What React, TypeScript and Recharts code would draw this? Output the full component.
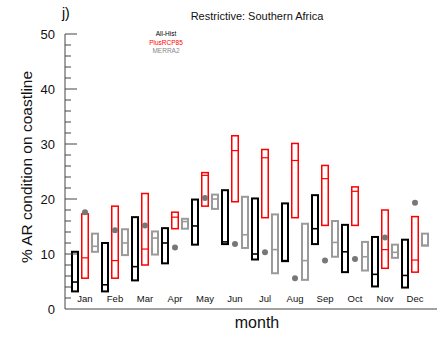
import { ComposedChart, Bar, Scatter, XAxis, YAxis } from "recharts";

const MONTHS = ["Jan", "Feb", "Mar", "Apr", "May", "Jun", "Jul", "Aug", "Sep", "Oct", "Nov", "Dec"];

// All-Hist (black)
const HIST_LO = [3.2, 3.2, 5.2, 8.3, 11.7, 11.8, 9.0, 8.7, 11.8, 6.7, 4.1, 3.9];
const HIST_HI = [10.4, 12.0, 16.7, 14.7, 19.9, 21.6, 20.1, 19.2, 20.7, 15.3, 13.1, 12.6];
const HIST_MED = [4.9, 4.4, 7.7, 12.0, 15.1, 12.2, 10.0, 8.8, 14.6, 10.4, 6.3, 6.1];

// PlusRCP85 (red)
const RCP_LO = [5.6, 5.6, 8.0, 14.6, 18.7, 19.5, 16.6, 16.6, 15.2, 15.2, 7.4, 6.7];
const RCP_HI = [17.3, 18.7, 21.0, 17.6, 24.8, 31.5, 29.0, 30.1, 26.1, 22.2, 18.0, 16.8];
const RCP_MED = [9.3, 8.8, 10.9, 16.7, 24.3, 28.8, 27.5, 27.0, 23.7, 21.4, 10.8, 8.9];

// MERRA2 (gray)
const MERRA_LO = [10.4, 9.8, 9.9, 14.6, 18.2, 11.1, 6.5, 5.3, 9.5, 7.0, 9.3, 11.5];
const MERRA_HI = [13.7, 14.5, 14.1, 16.4, 20.8, 20.4, 17.2, 15.5, 16.0, 12.2, 11.7, 13.7];
const MERRA_MED = [11.4, 12.0, 12.9, 15.9, 20.0, 13.5, 10.8, 8.8, 12.1, 9.5, 10.3, 11.6];

// gray dots
const OBS = [17.6, 14.3, 15.2, 11.2, 20.2, 11.8, 10.3, 5.6, 8.8, 9.1, 13.0, 19.3];

const Y_TICKS = Array.from({ length: 26 }, (_, i) => i * 2);

const data = MONTHS.map((month, i) => ({
  month,
  hist: [HIST_LO[i], HIST_HI[i]],
  histMed: HIST_MED[i],
  rcp: [RCP_LO[i], RCP_HI[i]],
  rcpMed: RCP_MED[i],
  merra: [MERRA_LO[i], MERRA_HI[i]],
  merraMed: MERRA_MED[i],
  obs: OBS[i],
}));

const FONT = "'Liberation Sans', Arial, Helvetica, sans-serif";

const makeBox = (color: string, sw: number, rangeKey: string, medKey: string) => (props: any) => {
  const { x, y, width, height, payload } = props;
  const top = Math.min(y, y + height);
  const h = Math.abs(height);
  const [lo, hi] = payload[rangeKey];
  const med = payload[medKey];
  const my = top + (h * (hi - med)) / (hi - lo);
  return (
    <g>
      <rect x={x + sw / 2} y={top} width={width - sw} height={h} fill="none" stroke={color} strokeWidth={sw} />
      <line x1={x + sw / 2} x2={x + width - sw / 2} y1={my} y2={my} stroke={color} strokeWidth={sw * 0.8} />
    </g>
  );
};

const YTick = (props: any) => {
  const { x, y, payload } = props;
  const major = payload.value % 10 === 0;
  return (
    <g>
      {payload.value !== 0 && (
        <line x1={x} x2={x + (major ? 12 : 6)} y1={y} y2={y} stroke="#444" strokeWidth={1} />
      )}
      {major && (
        <text x={x - 10} y={y} dy={4.5} textAnchor="end" fontSize={13} fill="#111" fontFamily={FONT}>
          {payload.value}
        </text>
      )}
    </g>
  );
};

const XTick = (props: any) => {
  const { x, y, payload } = props;
  return (
    <text x={x} y={y - 7} textAnchor="middle" fontSize={9.5} fill="#111" fontFamily={FONT}>
      {payload.value}
    </text>
  );
};

const Dot = (props: any) => {
  const { cx, cy } = props;
  return <circle cx={cx} cy={cy} r={3} fill="#777" />;
};

export default function App() {
  return (
    <div style={{ position: "absolute", left: 0, top: 0, width: 442, height: 348, background: "#fff", fontFamily: FONT }}>
      <ComposedChart
        width={442}
        height={348}
        data={data}
        margin={{ top: 34, right: 5, bottom: 0, left: 0 }}
        barSize={8}
        barGap={2}
        barCategoryGap={1}
      >
        <XAxis
          dataKey="month"
          height={39}
          tickSize={0}
          tickMargin={0}
          tickLine={false}
          tick={<XTick />}
          axisLine={{ stroke: "#444" }}
          padding={{ left: 5, right: 7 }}
          interval={0}
        />
        <YAxis
          width={65}
          domain={[0, 50]}
          ticks={Y_TICKS}
          interval={0}
          tickSize={0}
          tickMargin={0}
          tickLine={false}
          tick={<YTick />}
          axisLine={{ stroke: "#444" }}
        />
        <Bar dataKey="hist" isAnimationActive={false} shape={makeBox("#000", 2, "hist", "histMed")} />
        <Bar dataKey="rcp" isAnimationActive={false} shape={makeBox("#ff0000", 1.5, "rcp", "rcpMed")} />
        <Bar dataKey="merra" isAnimationActive={false} shape={makeBox("#9a9a9a", 2, "merra", "merraMed")} />
        <Scatter dataKey="obs" isAnimationActive={false} shape={<Dot />} />
      </ComposedChart>

      <div style={{ position: "absolute", left: 62, top: 5, fontSize: 14, color: "#000" }}>j)</div>
      <div style={{ position: "absolute", left: 157, width: 200, top: 10, textAlign: "center", fontSize: 11, color: "#111" }}>
        Restrictive: Southern Africa
      </div>
      <div style={{ position: "absolute", left: 126, width: 80, top: 30, textAlign: "center", fontSize: 6.5, lineHeight: "8.5px" }}>
        <div style={{ color: "#000" }}>All-Hist</div>
        <div style={{ color: "#ff0000" }}>PlusRCP85</div>
        <div style={{ color: "#888" }}>MERRA2</div>
      </div>
      <div style={{ position: "absolute", left: 207, width: 100, top: 314, textAlign: "center", fontSize: 16, color: "#111" }}>
        month
      </div>
      <div
        style={{
          position: "absolute",
          left: 27 - 120,
          width: 240,
          top: 167 - 10,
          height: 20,
          lineHeight: "20px",
          textAlign: "center",
          fontSize: 15.5,
          color: "#111",
          transform: "rotate(-90deg)",
          whiteSpace: "nowrap",
        }}
      >
        % AR condition on coastline
      </div>
    </div>
  );
}
